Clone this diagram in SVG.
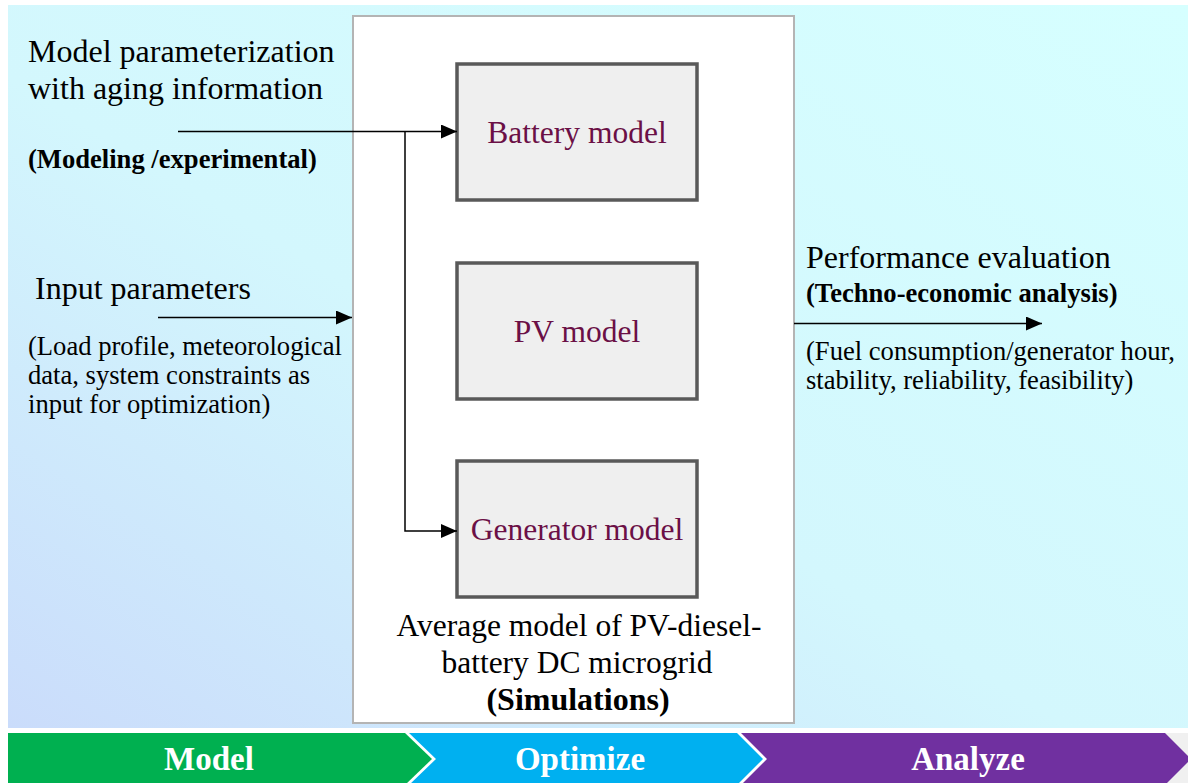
<svg xmlns="http://www.w3.org/2000/svg" width="1188" height="783" viewBox="0 0 1188 783">
<defs>
<linearGradient id="bg" x1="1" y1="0" x2="0" y2="1">
<stop offset="0" stop-color="#d6ffff"/>
<stop offset="0.55" stop-color="#d3f7fd"/>
<stop offset="1" stop-color="#cadcfb"/>
</linearGradient>
<marker id="arr" markerWidth="16" markerHeight="14" refX="16" refY="7" orient="auto" markerUnits="userSpaceOnUse">
<path d="M0,0 L16,7 L0,14 Z" fill="#000"/>
</marker>
<style>
.t{font-family:"Liberation Serif","Times New Roman",serif;fill:#000}
.big{font-size:32px}
.sm{font-size:26.6px}
.b{font-weight:bold}
.node rect{fill:#efefef;stroke:#595959;stroke-width:3.5}
.node text{font-family:"Liberation Serif","Times New Roman",serif;font-size:31.5px;fill:#6b1046;text-anchor:middle}
.conn{stroke:#000;stroke-width:1.5;fill:none}
.chev text{font-family:"Liberation Serif","Times New Roman",serif;font-size:33px;font-weight:bold;fill:#fff;text-anchor:middle}
</style>
</defs>
<rect x="0" y="0" width="1188" height="783" fill="#fff"/>
<rect x="8" y="5" width="1180" height="723" fill="url(#bg)"/>
<rect x="1160" y="733" width="28" height="50" fill="#f0f0f0"/>

<g id="container">
<rect x="353" y="16" width="441" height="707" fill="#fff" stroke="#b4b4b4" stroke-width="2"/>
<text class="t" font-size="31.5" x="579" y="636" text-anchor="middle">Average model of PV-diesel-</text>
<text class="t" font-size="31.5" x="577" y="673" text-anchor="middle">battery DC microgrid</text>
<text class="t b" x="578" y="710" text-anchor="middle" font-size="32">(Simulations)</text>
</g>

<g id="battery" class="node">
<rect x="457" y="64" width="240" height="136"/>
<text x="577" y="143">Battery model</text>
</g>
<g id="pv" class="node">
<rect x="457" y="263" width="240" height="136"/>
<text x="577" y="342">PV model</text>
</g>
<g id="generator" class="node">
<rect x="457" y="461" width="240" height="136"/>
<text x="577" y="540">Generator model</text>
</g>

<g id="labels">
<text class="t big" x="28" y="62">Model parameterization</text>
<text class="t big" x="28" y="99">with aging information</text>
<text class="t sm b" x="28" y="168">(Modeling /experimental)</text>
<text class="t big" x="35" y="299">Input parameters</text>
<text class="t sm" x="28" y="355">(Load profile, meteorological</text>
<text class="t sm" x="28" y="384">data, system constraints as</text>
<text class="t sm" x="28" y="413">input for optimization)</text>
<text class="t big" x="806" y="268">Performance evaluation</text>
<text class="t sm b" x="806" y="302">(Techno-economic analysis)</text>
<text class="t sm" x="806" y="360">(Fuel consumption/generator hour,</text>
<text class="t sm" x="806" y="389">stability, reliability, feasibility)</text>
</g>

<g id="connectors">
<path class="conn" d="M178,131.5 H457" marker-end="url(#arr)"/>
<path class="conn" d="M405,131.5 V531 H457" marker-end="url(#arr)"/>
<path class="conn" d="M158,317.5 H352" marker-end="url(#arr)"/>
<path class="conn" d="M794,323.5 H1042" marker-end="url(#arr)"/>
</g>

<g id="chevrons" class="chev">
<polygon points="8,733 405,733 432,759 405,785 8,785" fill="#00b050"/>
<polygon points="409,733 737,733 763,759 737,785 409,785 436,759" fill="#00b0f0"/>
<polygon points="741,733 1165,733 1191,759 1165,785 741,785 767,759" fill="#7030a0"/>
<text x="209" y="770">Model</text>
<text x="580" y="770">Optimize</text>
<text x="968" y="770">Analyze</text>
</g>
</svg>
